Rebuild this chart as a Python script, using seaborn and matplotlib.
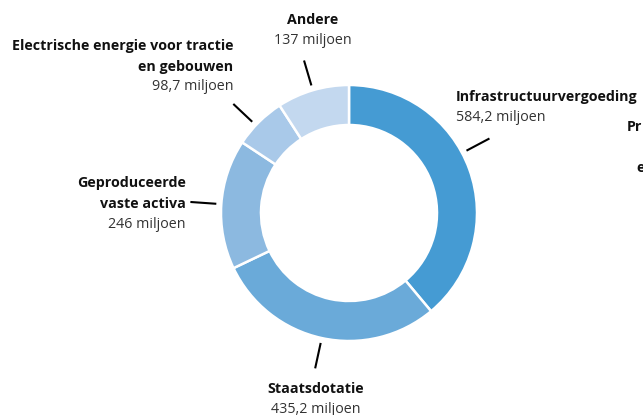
import numpy as np
import seaborn as sns
import matplotlib.pyplot as plt

sns.set_theme(style="white")
plt.rcParams['font.family'] = ['Open Sans', 'DejaVu Sans']

# Data (miljoen euro)
categories = ["Infrastructuurvergoeding", "Staatsdotatie", "Geproduceerde\nvaste activa",
              "Electrische energie voor tractie\nen gebouwen", "Andere"]
values = [584.2, 435.2, 246, 98.7, 137]
value_labels = ["584,2 miljoen", "435,2 miljoen", "246 miljoen", "98,7 miljoen", "137 miljoen"]
colors = ["#459bd3", "#6aaad9", "#8cb9e0", "#a9c9e9", "#c3d8ef"]

W, H = 643, 415
fig = plt.figure(figsize=(W / 100, H / 100), dpi=100)
ax = fig.add_axes([0, 0, 1, 1])

cx, cy, R = 349, H - 213, 128
wedges, _ = ax.pie(values, colors=colors, startangle=90, counterclock=False,
                   radius=R, center=(cx, cy),
                   wedgeprops=dict(width=40, edgecolor="white", linewidth=1.8))

# label layout: (text x, text y of first line, alignment, angle tweak)
layout = [
    (456, 97, "left", 8),
    (316, 389, "center", 0),
    (186, 183, "right", 0),
    (233, 46, "right", 2),
    (313, 20, "center", 0),
]
fs = 10.3
step = 20.5
total = sum(values)
start = 90.0
for val, cat, vl, (tx, ty, ha, tweak) in zip(values, categories, value_labels, layout):
    span = val / total * 360
    mid = np.deg2rad(start - span / 2 + tweak)
    start -= span
    r0, r1 = R + 5, R + 31
    ax.plot([cx + r0 * np.cos(mid), cx + r1 * np.cos(mid)],
            [cy + r0 * np.sin(mid), cy + r1 * np.sin(mid)],
            color="black", lw=1.5, solid_capstyle="butt")
    lines = cat.split("\n")
    for i, line in enumerate(lines):
        ax.text(tx, H - ty - step * i, line, ha=ha, va="center", fontsize=fs,
                fontweight="bold", color="#111111")
    ax.text(tx, H - ty - step * len(lines), vl, ha=ha, va="center", fontsize=fs,
            color="#333333")

# partial labels of neighbouring chart, cut off at the edge
ax.text(627, H - 127, "Pr", ha="left", va="center", fontsize=fs, fontweight="bold", color="#111111")
ax.text(636, H - 168, "e", ha="left", va="center", fontsize=fs, fontweight="bold", color="#111111")

ax.set_xlim(0, W)
ax.set_ylim(0, H)
ax.set_aspect("auto")
ax.axis("off")
fig.savefig("out.png", dpi=100)
